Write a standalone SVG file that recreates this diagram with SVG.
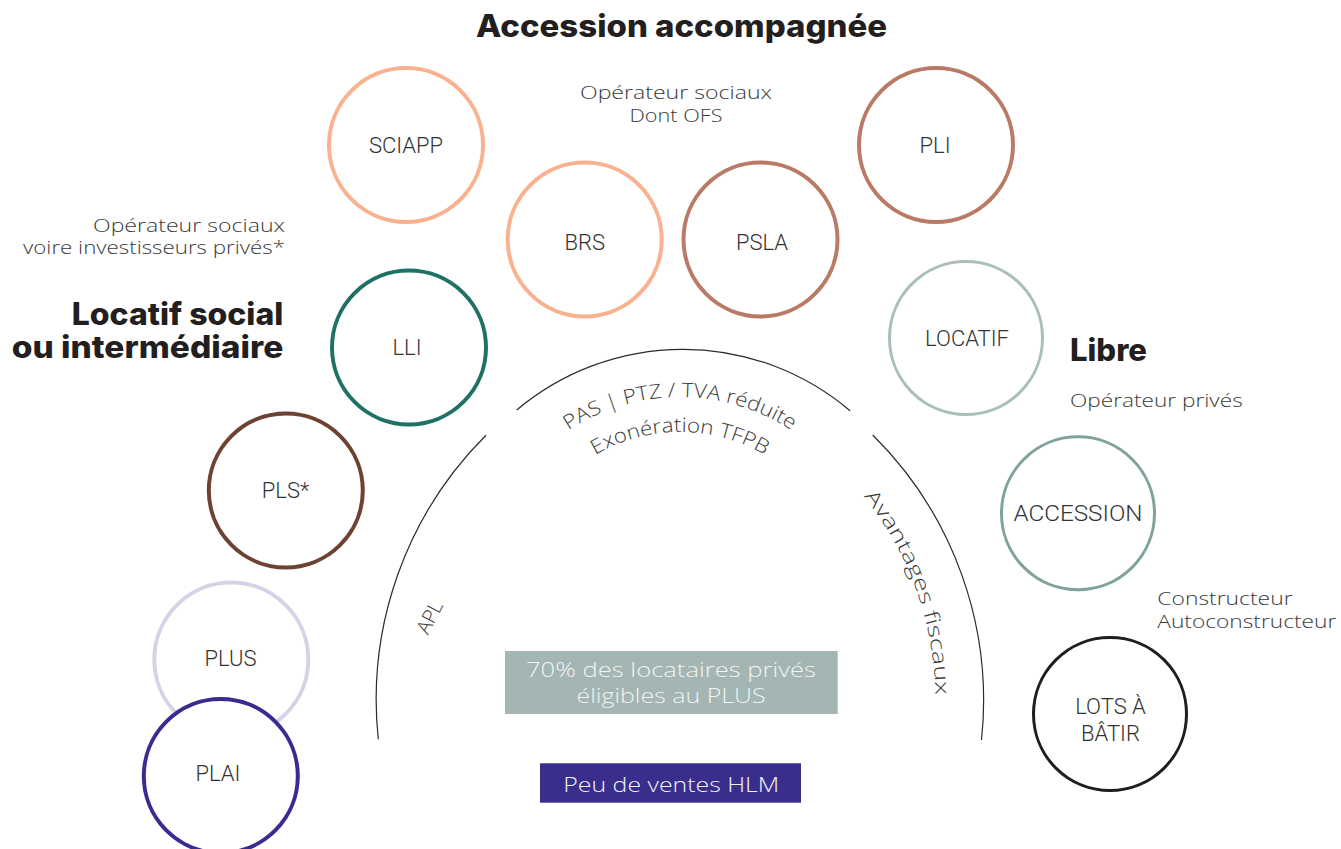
<svg xmlns="http://www.w3.org/2000/svg" width="1341" height="849" viewBox="0 0 1341 849">
  <style>
    .bg { fill: #ffffff; }
    .node circle { fill: #ffffff; stroke-width: 4; }
    .lbl { font-family: Roboto, "Liberation Sans", sans-serif; font-weight: 300; font-size: 22px; fill: #333333; text-anchor: middle; }
    .head { font-family: Inter, "Open Sans", "Liberation Sans", sans-serif; font-weight: 800; font-size: 31px; fill: #231f20; }
    .note { font-family: "Open Sans", "Noto Sans", sans-serif; font-weight: 300; font-size: 19px; fill: #3a3a3a; }
    .arcline { fill: none; stroke: #2a2a2a; stroke-width: 1.2; }
    .arctxt { font-family: "Open Sans", "Noto Sans", sans-serif; font-weight: 300; font-size: 20px; fill: #3a3a3a; }
    .boxtxt { font-family: "Open Sans", "Noto Sans", sans-serif; font-weight: 300; font-size: 21px; text-anchor: middle; }
  </style>
  <defs>
    <path id="arcTop1" d="M504.2,498.5 A203,203 0 0 1 855.8,498.5"/>
    <path id="arcTop2" d="M534.5,516 A168,168 0 0 1 825.5,516"/>
    <path id="arcRight" d="M840.1,469.9 A325,325 0 0 1 934.1,728"/>
  </defs>

  <rect class="bg" x="0" y="0" width="1341" height="849"/>

  <!-- headings and captions -->
  <text class="head" x="476" y="37" textLength="411" lengthAdjust="spacingAndGlyphs">Accession accompagnée</text>
  <text class="note" x="676" y="98.7" text-anchor="middle" textLength="192" lengthAdjust="spacingAndGlyphs">Opérateur sociaux</text>
  <text class="note" x="676" y="122" text-anchor="middle" textLength="93" lengthAdjust="spacingAndGlyphs">Dont OFS</text>

  <text class="note" x="93" y="231.7" textLength="192" lengthAdjust="spacingAndGlyphs">Opérateur sociaux</text>
  <text class="note" x="23" y="254.3" textLength="262" lengthAdjust="spacingAndGlyphs">voire investisseurs privés*</text>
  <text class="head" x="71.7" y="325" textLength="211.6" lengthAdjust="spacingAndGlyphs">Locatif social</text>
  <text class="head" x="11.7" y="358.3" textLength="271.6" lengthAdjust="spacingAndGlyphs">ou intermédiaire</text>

  <text class="head" x="1070" y="360.7" textLength="77" lengthAdjust="spacingAndGlyphs">Libre</text>
  <text class="note" x="1070" y="407.3" textLength="172.7" lengthAdjust="spacingAndGlyphs">Opérateur privés</text>
  <text class="note" x="1157.3" y="605" textLength="135.3" lengthAdjust="spacingAndGlyphs">Constructeur</text>
  <text class="note" x="1157.3" y="628.3" textLength="179" lengthAdjust="spacingAndGlyphs">Autoconstructeur</text>

  <!-- arcs of the central dome -->
  <g id="connectors">
    <path class="arcline" d="M516.7,410 A258,258 0 0 1 850,410.7"/>
    <path class="arcline" d="M486,435.3 A373.3,373.3 0 0 0 378.3,739.3"/>
    <path class="arcline" d="M872.7,435 A373.3,373.3 0 0 1 981.5,740"/>
  </g>

  <!-- texts along the dome -->
  <text class="arctxt"><textPath href="#arcTop1" startOffset="50%" text-anchor="middle" textLength="236" lengthAdjust="spacingAndGlyphs">PAS | PTZ / TVA réduite</textPath></text>
  <text class="arctxt"><textPath href="#arcTop2" startOffset="50%" text-anchor="middle" textLength="178" lengthAdjust="spacingAndGlyphs">Exonération TFPB</textPath></text>
  <text class="arctxt" transform="translate(429,617) rotate(-63)" text-anchor="middle" dominant-baseline="central" font-size="18">APL</text>
  <text class="arctxt" font-size="21"><textPath href="#arcRight" startOffset="143" text-anchor="middle" textLength="215" lengthAdjust="spacingAndGlyphs">Avantages fiscaux</textPath></text>

  <!-- boxes -->
  <g id="box-plus">
    <rect x="505" y="651" width="332.7" height="63" fill="#a3b6b3"/>
    <text class="boxtxt" x="671" y="677.3" fill="#f2f2f2" textLength="290" lengthAdjust="spacingAndGlyphs">70% des locataires privés</text>
    <text class="boxtxt" x="671" y="703.3" fill="#f2f2f2" textLength="189" lengthAdjust="spacingAndGlyphs">éligibles au PLUS</text>
  </g>
  <g id="box-hlm">
    <rect x="540" y="763.3" width="261" height="39.4" fill="#3a2e8c"/>
    <text class="boxtxt" x="671.3" y="791.7" fill="#f2f2f2" textLength="216" lengthAdjust="spacingAndGlyphs">Peu de ventes HLM</text>
  </g>

  <!-- nodes -->
  <g id="node-sciapp" class="node">
    <circle cx="406" cy="145" r="77" stroke="#f9b18f"/>
    <text class="lbl" x="406" y="152.5">SCIAPP</text>
  </g>
  <g id="node-brs" class="node">
    <circle cx="584.7" cy="239.5" r="77" stroke="#f9b18f"/>
    <text class="lbl" x="584.7" y="250">BRS</text>
  </g>
  <g id="node-psla" class="node">
    <circle cx="760.5" cy="239.5" r="77" stroke="#b97a66"/>
    <text class="lbl" x="762" y="250">PSLA</text>
  </g>
  <g id="node-pli" class="node">
    <circle cx="936" cy="145" r="77" stroke="#b97a66"/>
    <text class="lbl" x="935" y="152.5">PLI</text>
  </g>
  <g id="node-locatif" class="node">
    <circle cx="966" cy="338" r="76.5" stroke="#aabfba" style="stroke-width:3"/>
    <text class="lbl" x="967" y="345.5">LOCATIF</text>
  </g>
  <g id="node-accession" class="node">
    <circle cx="1078" cy="513.3" r="76.5" stroke="#7fa29d" style="stroke-width:3"/>
    <text class="lbl" x="1078" y="521" textLength="129" lengthAdjust="spacingAndGlyphs">ACCESSION</text>
  </g>
  <g id="node-lots" class="node">
    <circle cx="1110" cy="714" r="76.5" stroke="#1e1e1e" style="stroke-width:3"/>
    <text class="lbl" x="1110.5" y="713.5">LOTS À</text>
    <text class="lbl" x="1110.5" y="741">BÂTIR</text>
  </g>
  <g id="node-lli" class="node">
    <circle cx="409" cy="347.5" r="77" stroke="#1f7065"/>
    <text class="lbl" x="407" y="355">LLI</text>
  </g>
  <g id="node-pls" class="node">
    <circle cx="285.8" cy="490.5" r="77" stroke="#6e4232"/>
    <text class="lbl" x="285.5" y="498">PLS*</text>
  </g>
  <g id="node-plus" class="node">
    <circle cx="231.3" cy="659.5" r="77" stroke="#d6d3e8"/>
    <text class="lbl" x="230.5" y="665.5">PLUS</text>
  </g>
  <g id="node-plai" class="node">
    <circle cx="220.8" cy="776" r="77" stroke="#382c91"/>
    <text class="lbl" x="218" y="781">PLAI</text>
  </g>
</svg>
